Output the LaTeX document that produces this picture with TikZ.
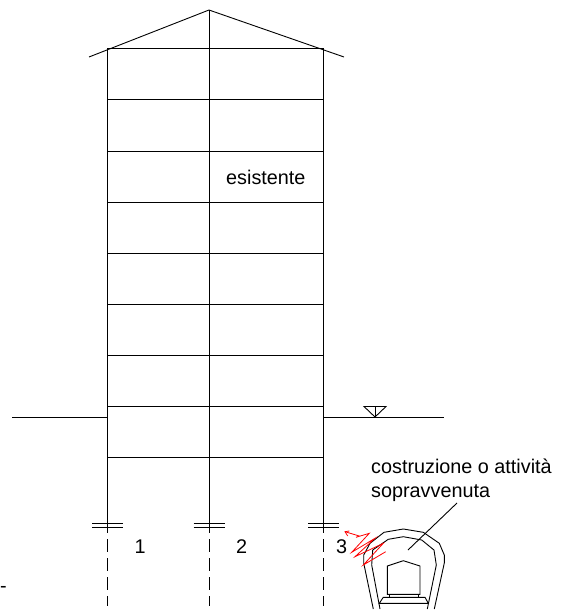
\documentclass[tikz,border=0pt]{standalone}
\usepackage{fontspec}
\setmainfont{Liberation Sans}
\tikzset{
  line/.style={line width=0.9pt,black},
  label/.style={inner sep=0pt,font=\fontsize{19.8}{23}\selectfont,align=left,text=black},
  pile/.style={line width=0.9pt,dash pattern=on 13pt off 6pt},
  crack/.style={red,line width=0.8pt}
}
\begin{document}
\begin{tikzpicture}[x=1pt,y=-1pt]
\useasboundingbox (0,0) rectangle (564,610);
% frame
\foreach \fy in {48.5,99.5,151,202,253,304.5,355.5,406.5,457.5}
  \draw[line] (107.5,\fy) -- (323.5,\fy);
\foreach \cx in {107.5,209,323.5}{
  \draw[line] (\cx,48.5) -- (\cx,533);
  \draw[line] (\cx-15.5,523.5) -- (\cx+15.5,523.5);
  \draw[line] (\cx-15.5,527.5) -- (\cx+15.5,527.5);
  \draw[pile] (\cx,539) -- (\cx,606);
}
% roof
\coordinate (apex) at (209,10);
\coordinate (eaveL) at (89,57);
\coordinate (eaveR) at (344,57);
\draw[line] (eaveL) -- (apex) -- (eaveR);
\draw[line] (apex) -- (209,48.5);
% ground
\draw[line] (12,417) -- (107.5,417);
\draw[line] (323.5,417) -- (444,417);
\draw[line] (364,406.5) -- (386,406.5) -- (375,417) -- cycle;
\draw[line] (375,406.5) -- (375,417);
% labels
\node[label,anchor=base west] (esi) at (226,184) {esistente};
\node[label,anchor=base west] (n1) at (134.5,553) {1};
\node[label,anchor=base west] (n2) at (236,553) {2};
\node[label,anchor=base west] (n3) at (336,553) {3};
\node[label,anchor=base west] (c1) at (371,473.5) {costruzione o attività};
\node[label,anchor=base west] (c2) at (371,497.5) {sopravvenuta};
\node[label,anchor=base west] (dash) at (0,592) {-};
% tunnel
\draw[line] (373.3,609) -- (363.7,563) -- (363.7,555) -- (370,543.3) -- (384,532.3) -- (403.3,529) -- (423.3,532.3) -- (439.3,543.3) -- (444.3,555) -- (444.3,563) -- (434.3,609);
\draw[line] (380,609) -- (371.7,565) -- (372.7,550) -- (388.3,539.3) -- (403.3,536.7) -- (421.7,540) -- (434,550) -- (436.3,565) -- (427.3,609);
\draw[line] (387.3,594.3) -- (387.3,566) -- (403.3,560.7) -- (420,566) -- (420,594.3) -- cycle;
\draw[line] (389.3,594.3) -- (389.3,597.3) (418.3,594.3) -- (418.3,597.3);
\draw[line] (383.3,597.3) -- (425,597.3) -- (428.3,603.3) -- (379.3,603.3) -- cycle;
\draw[line] (408,550) -- (457,503);
% crack
\draw[crack] (349.3,531) -- (345,531.7) -- (347.7,536);
\draw[crack] (345,531.7) -- (359.3,536) -- (356,537.3) -- (369.3,533.3) -- (351.7,552.3) -- (375,538.3) -- (355,556.7) -- (383.3,543.3) -- (363.3,565) -- (385.7,551.7);
\end{tikzpicture}
\end{document}
